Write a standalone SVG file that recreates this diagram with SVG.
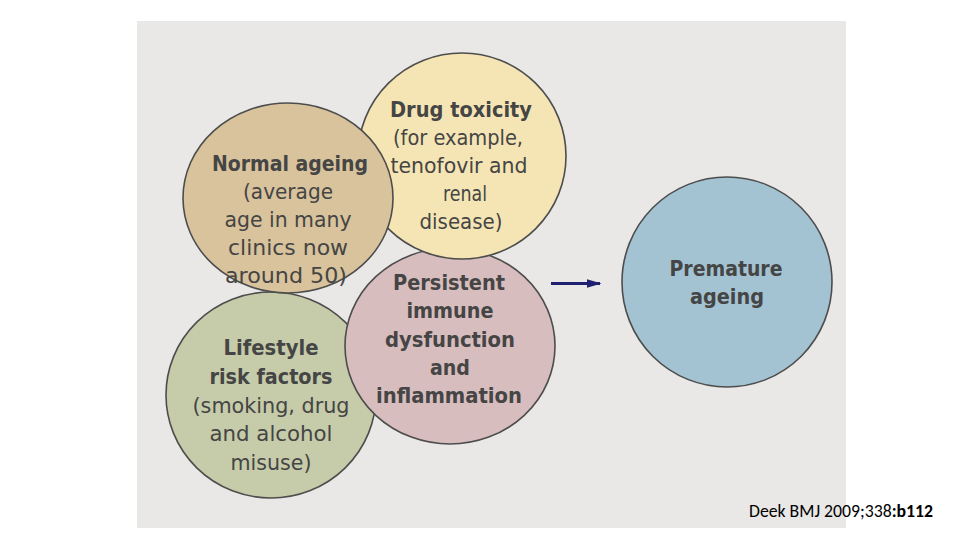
<svg xmlns="http://www.w3.org/2000/svg" width="960" height="540" viewBox="0 0 960 540">
<style>
.c{stroke:#4d4d4d;stroke-width:1.6}
text{font-family:"DejaVu Sans Condensed","DejaVu Sans","Liberation Sans",sans-serif;font-stretch:condensed;font-size:22px;fill:#454545;text-anchor:middle}
.b{font-weight:bold}
.f{font-family:"Carlito","Liberation Sans",sans-serif;font-stretch:normal;font-size:17.5px;fill:#000;text-anchor:start}
</style>
<defs>
<marker id="ah" viewBox="0 0 10 10" refX="9" refY="5" markerWidth="5" markerHeight="3" orient="auto" markerUnits="strokeWidth" preserveAspectRatio="none">
<path d="M0,0 L10,5 L0,10 Z" fill="#1f2070"/>
</marker>
</defs>
<rect width="960" height="540" fill="#ffffff"/>
<rect x="137" y="21" width="709" height="507" fill="#e9e8e6"/>
<g id="lifestyle">
<ellipse class="c" cx="271" cy="395" rx="105" ry="103" fill="#c6cca9"/>
<text class="b" x="271" y="355" textLength="95" lengthAdjust="spacingAndGlyphs">Lifestyle</text>
<text class="b" x="271" y="384" textLength="123" lengthAdjust="spacingAndGlyphs">risk factors</text>
<text x="271" y="413" textLength="157" lengthAdjust="spacingAndGlyphs">(smoking, drug</text>
<text x="271" y="441" textLength="123" lengthAdjust="spacingAndGlyphs">and alcohol</text>
<text x="271" y="470" textLength="81" lengthAdjust="spacingAndGlyphs">misuse)</text>
</g>
<g id="persistent">
<ellipse class="c" cx="450" cy="346" rx="105" ry="98" fill="#d8bdbe"/>
<text class="b" x="449" y="290" textLength="112" lengthAdjust="spacingAndGlyphs">Persistent</text>
<text class="b" x="450" y="318" textLength="87" lengthAdjust="spacingAndGlyphs">immune</text>
<text class="b" x="450" y="347" textLength="130" lengthAdjust="spacingAndGlyphs">dysfunction</text>
<text class="b" x="450" y="375" textLength="40" lengthAdjust="spacingAndGlyphs">and</text>
<text class="b" x="449" y="403" textLength="146" lengthAdjust="spacingAndGlyphs">inflammation</text>
</g>
<g id="drug-toxicity">
<ellipse class="c" cx="462" cy="156" rx="104" ry="103" fill="#f5e5b4"/>
<text class="b" x="461" y="117" textLength="142" lengthAdjust="spacingAndGlyphs">Drug toxicity</text>
<text x="458" y="145" textLength="130" lengthAdjust="spacingAndGlyphs">(for example,</text>
<text x="459" y="173" textLength="137" lengthAdjust="spacingAndGlyphs">tenofovir and</text>
<text x="465" y="201" textLength="44" lengthAdjust="spacingAndGlyphs">renal</text>
<text x="461" y="229" textLength="83" lengthAdjust="spacingAndGlyphs">disease)</text>
</g>
<g id="normal-ageing">
<ellipse class="c" cx="288" cy="198" rx="105" ry="95" fill="#d9c39c"/>
<text class="b" x="290" y="171" textLength="156" lengthAdjust="spacingAndGlyphs">Normal ageing</text>
<text x="288" y="199" textLength="90" lengthAdjust="spacingAndGlyphs">(average</text>
<text x="288" y="227" textLength="127" lengthAdjust="spacingAndGlyphs">age in many</text>
<text x="288" y="255" textLength="120" lengthAdjust="spacingAndGlyphs">clinics now</text>
<text x="286" y="283" textLength="122" lengthAdjust="spacingAndGlyphs">around 50)</text>
</g>
<g id="premature-ageing">
<ellipse class="c" cx="727" cy="282" rx="105" ry="105" fill="#a3c3d3"/>
<text class="b" x="726" y="276" textLength="113" lengthAdjust="spacingAndGlyphs">Premature</text>
<text class="b" x="727" y="304" textLength="74" lengthAdjust="spacingAndGlyphs">ageing</text>
</g>
<g id="connectors">
<line x1="551" y1="283.5" x2="600" y2="283.5" stroke="#1f2070" stroke-width="3" marker-end="url(#ah)"/>
</g>
<text class="f" x="749" y="517" textLength="184" lengthAdjust="spacingAndGlyphs">Deek BMJ 2009;338<tspan font-weight="bold">:b112</tspan></text>
</svg>
